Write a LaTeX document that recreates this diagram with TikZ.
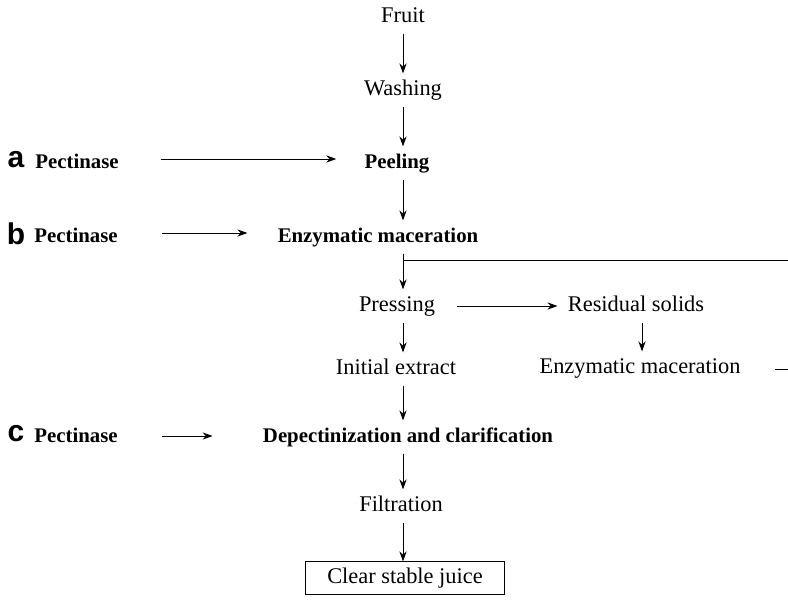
\documentclass[tikz,border=0pt]{standalone}
\usepackage{fontspec}
\setmainfont{Liberation Serif}
\newfontfamily\tagfont{Liberation Sans}
\usetikzlibrary{arrows.meta, positioning}

\begin{document}
\begin{tikzpicture}[x=0.5pt,y=-0.5pt,
    stage/.style={font=\fontsize{11.2}{13}\selectfont, inner sep=3pt, text height=7.8pt, text depth=2.4pt},
    keystage/.style={stage, font=\fontsize{10.4}{12}\selectfont\bfseries},
    tag/.style={inner sep=0pt, font=\fontsize{15}{17}\selectfont\tagfont\bfseries}]
  \useasboundingbox (0,0) rectangle (788,600);
  % main column
  \begin{scope}[every node/.style={stage}]
    \node (fruit) at (403,17) {Fruit};
    \node (wash) at (403,90) {Washing};
    \node[keystage] (peel) at (397,163) {Peeling};
    \node[keystage] (mac) at (378,237) {Enzymatic maceration};
    \node (pres) at (397,306) {Pressing};
    \node (ext) at (396,369) {Initial extract};
    \node[keystage] (depec) at (408,437) {Depectinization and clarification};
    \node (filt) at (401,506) {Filtration};
    \node[draw, inner xsep=11pt, minimum height=15.5pt] (juice) at (405,578) {Clear stable juice};
    \node (res) at (636,306) {Residual solids};
    \node (macr) at (640,368) {Enzymatic maceration};
  \end{scope}
  % enzyme additions
  \begin{scope}[every node/.style={keystage}]
    \node (pa) at (77,163) {Pectinase};
    \node (pb) at (76,237) {Pectinase};
    \node (pc) at (76,437) {Pectinase};
  \end{scope}
  \node[tag] (ta) at (16,160) {a};
  \node[tag] (tb) at (16,234) {b};
  \node[tag] (tc) at (16,434) {c};
  \coordinate (col) at (403,0);
  \coordinate (ret) at (788,260);
  \coordinate (dashA) at (775,369);
  \coordinate (dashB) at (788,369);
  \begin{scope}[every edge/.style={draw=black, line width=0.5pt, -{Stealth[length=5pt,width=3.6pt]}}]
    \path (fruit) edge (wash);
    \path (wash) edge (wash |- peel.north);
    \path (peel.south -| col) edge (col |- mac.north);
    \path (mac.south -| col) edge (col |- pres.north);
    \path (pres.south -| col) edge (col |- ext.north);
    \path (ext.south -| col) edge (col |- depec.north);
    \path (depec.south -| col) edge (col |- filt.north);
    \path (filt.south -| col) edge (col |- juice.north);
    \path (pres) edge[shorten <=8pt, shorten >=2pt] (res);
    \path ([xshift=3pt]res.south) edge ([xshift=3pt]res.south |- macr.north);
    \path ([yshift=2pt]pa.east) edge[shorten <=18pt, shorten >=11pt] ([yshift=2pt]pa.east -| peel.west);
    \path ([yshift=2pt]pb.east) edge[shorten <=19pt, shorten >=12pt] ([yshift=2pt]pb.east -| mac.west);
    \path ([yshift=0.5pt]pc.east) edge[shorten <=19pt, shorten >=22pt] ([yshift=0.5pt]pc.east -| depec.west);
  \end{scope}
  \draw[line width=0.5pt] (ret) -- (ret -| col);
  \draw[line width=0.5pt] (dashA) -- (dashB);
\end{tikzpicture}
\end{document}
